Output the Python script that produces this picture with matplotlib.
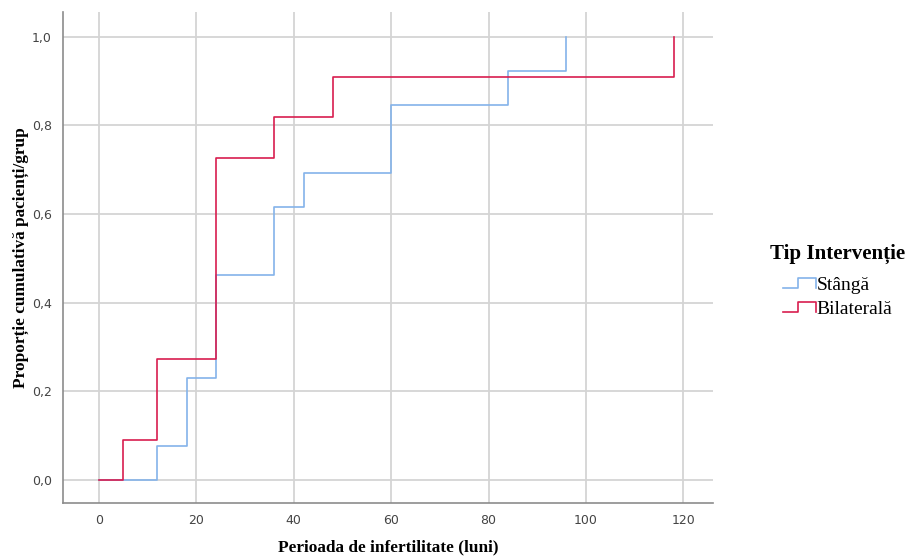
import numpy as np
import matplotlib.pyplot as plt
from matplotlib.legend_handler import HandlerBase
from matplotlib.lines import Line2D

# luni de infertilitate / proportie cumulativa
stanga_x = [0, 12, 18, 24, 36, 42, 60, 84, 96]
stanga_y = [0.0, 1/13, 3/13, 6/13, 8/13, 9/13, 11/13, 12/13, 1.0]
bilat_x = [0, 5, 12, 24, 36, 48, 118]
bilat_y = [0.0, 1/11, 3/11, 8/11, 9/11, 10/11, 1.0]

xticks = [0, 20, 40, 60, 80, 100, 120]
yticks = [0.0, 0.2, 0.4, 0.6, 0.8, 1.0]
ytick_labels = ['0,0', '0,2', '0,4', '0,6', '0,8', '1,0']

col_st = '#84b3ea'
col_bi = '#d81e4f'
serif = ['Liberation Serif', 'DejaVu Serif']


class StepHandler(HandlerBase):
    def create_artists(self, legend, orig, xd, yd, w, h, fontsize, trans):
        xs = [xd, xd + w * 0.45, xd + w * 0.45, xd + w, xd + w]
        ys = [yd + h * 0.1, yd + h * 0.1, yd + h * 0.9, yd + h * 0.9, yd + h * 0.1]
        ln = Line2D(xs, ys, color=orig.get_color(), lw=1.2, transform=trans)
        return [ln]


fig = plt.figure(figsize=(9.06, 5.58), dpi=100)
ax = fig.add_axes([0.0695, 0.0986, 0.7175, 0.88])

l1, = ax.step(stanga_x, stanga_y, where='post', color=col_st, lw=1.2, label='Stângă')
l2, = ax.step(bilat_x, bilat_y, where='post', color=col_bi, lw=1.2, label='Bilaterală')

ax.set_xlim(-7.4, 126.1)
ax.set_ylim(-0.052, 1.056)
ax.set_xticks(xticks)
ax.set_yticks(yticks)
ax.set_yticklabels(ytick_labels)
ax.grid(True, color='#d4d4d4', lw=1.3)
ax.set_axisbelow(True)
for s in ['top', 'right']:
    ax.spines[s].set_visible(False)
for s in ['left', 'bottom']:
    ax.spines[s].set_color('#8c8c8c')
    ax.spines[s].set_linewidth(1.2)
ax.tick_params(length=0, labelsize=9, colors='#444444', pad=8)

ax.set_xlabel('Perioada de infertilitate (luni)', fontsize=12.4, fontweight='bold',
              family=serif, labelpad=9)
ax.set_ylabel('Proporție cumulativă pacienți/grup', fontsize=12.4, fontweight='bold',
              family=serif)
ax.yaxis.set_label_coords(-0.053, 0.5)

leg = fig.legend(handles=[l1, l2], loc='center left', bbox_to_anchor=(0.85, 0.497),
                 frameon=False, handler_map={Line2D: StepHandler()},
                 handlelength=1.7, handletextpad=0.05, labelspacing=0.33,
                 borderpad=0, borderaxespad=0,
                 prop={'family': serif, 'size': 14},
                 title='Tip Intervenție',
                 title_fontproperties={'family': serif, 'size': 15, 'weight': 'bold'})
leg._legend_box.sep = 9

fig.savefig('out.png', dpi=100)
